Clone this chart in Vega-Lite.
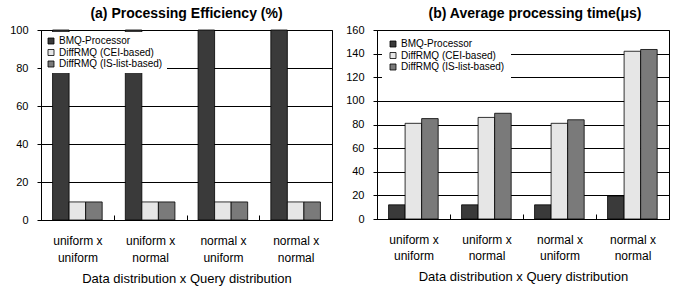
{
  "$schema": "https://vega.github.io/schema/vega-lite/v6.json",
  "padding": {"left": 9, "top": 6, "right": 5, "bottom": 0},
  "spacing": 12,
  "config": {
    "font": "Liberation Sans",
    "view": {"stroke": "black", "strokeWidth": 1},
    "axis": {"domainColor": "black", "tickColor": "black", "gridColor": "black", "gridOpacity": 1, "labelColor": "black", "titleColor": "black", "titleFontWeight": "normal"},
    "title": {"fontSize": 14, "fontWeight": "bold", "color": "black"}
  },
  "datasets": {
    "eff": [
      {"cat": "uniform x|uniform", "series": "BMQ-Processor", "v": 100},
      {"cat": "uniform x|uniform", "series": "DiffRMQ (CEI-based)", "v": 9.5},
      {"cat": "uniform x|uniform", "series": "DiffRMQ (IS-list-based)", "v": 9.5},
      {"cat": "uniform x|normal", "series": "BMQ-Processor", "v": 100},
      {"cat": "uniform x|normal", "series": "DiffRMQ (CEI-based)", "v": 9.5},
      {"cat": "uniform x|normal", "series": "DiffRMQ (IS-list-based)", "v": 9.5},
      {"cat": "normal x|uniform", "series": "BMQ-Processor", "v": 100},
      {"cat": "normal x|uniform", "series": "DiffRMQ (CEI-based)", "v": 9.5},
      {"cat": "normal x|uniform", "series": "DiffRMQ (IS-list-based)", "v": 9.5},
      {"cat": "normal x|normal", "series": "BMQ-Processor", "v": 100},
      {"cat": "normal x|normal", "series": "DiffRMQ (CEI-based)", "v": 9.5},
      {"cat": "normal x|normal", "series": "DiffRMQ (IS-list-based)", "v": 9.5}
    ],
    "time": [
      {"cat": "uniform x|uniform", "series": "BMQ-Processor", "v": 12},
      {"cat": "uniform x|uniform", "series": "DiffRMQ (CEI-based)", "v": 81},
      {"cat": "uniform x|uniform", "series": "DiffRMQ (IS-list-based)", "v": 85},
      {"cat": "uniform x|normal", "series": "BMQ-Processor", "v": 12},
      {"cat": "uniform x|normal", "series": "DiffRMQ (CEI-based)", "v": 86},
      {"cat": "uniform x|normal", "series": "DiffRMQ (IS-list-based)", "v": 89.5},
      {"cat": "normal x|uniform", "series": "BMQ-Processor", "v": 12},
      {"cat": "normal x|uniform", "series": "DiffRMQ (CEI-based)", "v": 81},
      {"cat": "normal x|uniform", "series": "DiffRMQ (IS-list-based)", "v": 84},
      {"cat": "normal x|normal", "series": "BMQ-Processor", "v": 19.5},
      {"cat": "normal x|normal", "series": "DiffRMQ (CEI-based)", "v": 142},
      {"cat": "normal x|normal", "series": "DiffRMQ (IS-list-based)", "v": 143.5}
    ]
  },
  "hconcat": [
    {
      "width": 291,
      "height": 190,
      "title": {"text": "(a) Processing Efficiency (%)", "offset": 3},
      "data": {"name": "eff"},
      "mark": {"type": "bar", "stroke": "black", "strokeWidth": 0.8},
      "encoding": {
        "x": {
          "field": "cat", "type": "nominal", "sort": null,
          "scale": {"paddingInner": 0, "paddingOuter": 0},
          "title": "Data distribution x Query distribution",
          "axis": {"labelAngle": 0, "labelExpr": "isValid(datum.value) ? split(datum.value, '|') : ''", "labelFontSize": 12, "labelLineHeight": 17, "labelPadding": 20, "tickBand": "extent", "tickSize": -5, "titleFontSize": 13, "titlePadding": 9}
        },
        "xOffset": {"field": "series", "sort": null, "scale": {"paddingOuter": 0.7, "paddingInner": 0}},
        "y": {
          "field": "v", "type": "quantitative",
          "scale": {"domain": [0, 100]},
          "title": null,
          "axis": {"values": [0, 20, 40, 60, 80, 100], "labelFontSize": 11, "labelPadding": 9, "tickSize": 4, "grid": true}
        },
        "fill": {
          "field": "series", "type": "nominal", "sort": null,
          "scale": {"range": ["#3a3a3a", "#e6e6e6", "#7a7a7a"]},
          "legend": {"title": null, "orient": "none", "legendX": 1, "legendY": 2, "fillColor": "white", "padding": 4, "symbolType": "square", "symbolSize": 36, "symbolStrokeColor": "black", "symbolStrokeWidth": 0.8, "labelFontSize": 10, "labelOffset": 3, "rowPadding": 1.5, "labelColor": "black"}
        }
      }
    },
    {
      "width": 292,
      "height": 189,
      "title": {"text": "(b) Average processing time(μs)", "dx": 12, "offset": 3},
      "data": {"name": "time"},
      "mark": {"type": "bar", "stroke": "black", "strokeWidth": 0.8},
      "encoding": {
        "x": {
          "field": "cat", "type": "nominal", "sort": null,
          "scale": {"paddingInner": 0, "paddingOuter": 0},
          "title": "Data distribution x Query distribution",
          "axis": {"labelAngle": 0, "labelExpr": "isValid(datum.value) ? split(datum.value, '|') : ''", "labelFontSize": 12, "labelLineHeight": 16, "labelPadding": 20, "tickBand": "extent", "tickSize": -5, "titleFontSize": 13, "titlePadding": 9}
        },
        "xOffset": {"field": "series", "sort": null, "scale": {"paddingOuter": 0.7, "paddingInner": 0}},
        "y": {
          "field": "v", "type": "quantitative",
          "scale": {"domain": [0, 160]},
          "title": null,
          "axis": {"values": [0, 20, 40, 60, 80, 100, 120, 140, 160], "labelFontSize": 11, "labelPadding": 9, "tickSize": 4, "grid": true}
        },
        "fill": {
          "field": "series", "type": "nominal", "sort": null,
          "scale": {"range": ["#3a3a3a", "#e6e6e6", "#7a7a7a"]},
          "legend": {"title": null, "orient": "none", "legendX": 5, "legendY": 3, "fillColor": "white", "padding": 6, "symbolType": "square", "symbolSize": 36, "symbolStrokeColor": "black", "symbolStrokeWidth": 0.8, "labelFontSize": 10, "labelOffset": 3, "rowPadding": 1.5, "labelColor": "black"}
        }
      }
    }
  ],
  "resolve": {"scale": {"fill": "independent"}, "legend": {"fill": "independent"}}
}
